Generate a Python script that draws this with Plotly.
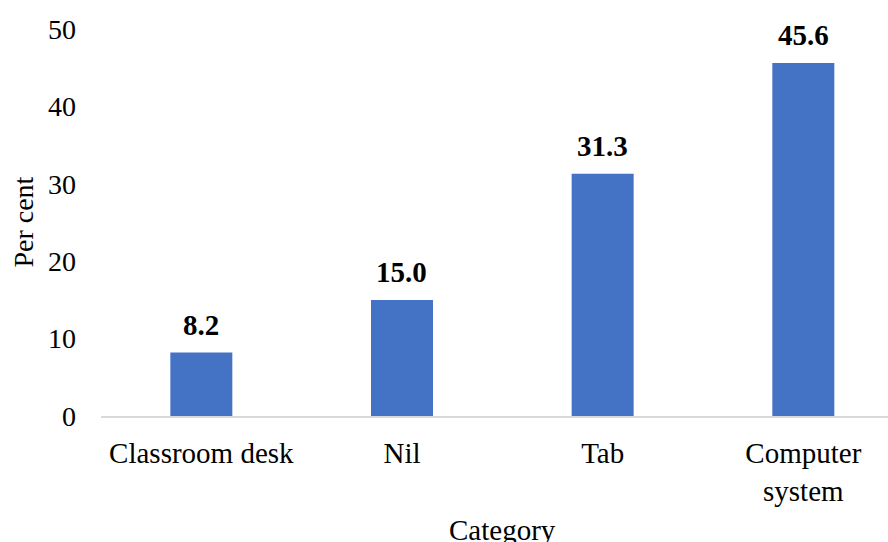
import plotly.graph_objects as go

# Share of respondents by category (percent)
categories = ["Classroom desk", "Nil", "Tab", "Computer<br>system"]
values = [8.2, 15.0, 31.3, 45.6]
y_ticks = [0, 10, 20, 30, 40, 50]

bar_color = "#4472C4"
font_family = "Liberation Serif"

fig = go.Figure(
    go.Bar(
        x=list(range(len(categories))),
        y=values,
        width=0.309,
        marker=dict(color=bar_color, line=dict(width=0)),
        hoverinfo="x+y",
    )
)

# Bold value labels above each bar
for i, v in enumerate(values):
    fig.add_annotation(
        x=i, y=v, text=f"<b>{v:.1f}</b>", showarrow=False,
        xanchor="center", yanchor="bottom", yshift=10,
        font=dict(family=font_family, size=29, color="#000000"),
    )

# Axis titles
fig.add_annotation(
    x=-0.099, y=0.5, xref="paper", yref="paper", text="Per cent",
    textangle=-90, showarrow=False, xanchor="center", yanchor="middle",
    font=dict(family=font_family, size=28, color="#000000"),
)
fig.add_annotation(
    x=1.5, y=-0.295, xref="x", yref="paper", text="Category",
    showarrow=False, xanchor="center", yanchor="middle",
    font=dict(family=font_family, size=29, color="#000000"),
)

fig.update_layout(
    width=888, height=542,
    margin=dict(l=101, r=0, t=29, b=126),
    paper_bgcolor="white", plot_bgcolor="white",
    showlegend=False,
    font=dict(family=font_family, color="#000000"),
)

fig.update_xaxes(
    range=[-0.5, 3.422],
    tickmode="array",
    tickvals=list(range(len(categories))),
    ticktext=categories,
    tickfont=dict(family=font_family, size=29, color="#000000"),
    showline=True, linecolor="#D9D9D9", linewidth=2,
    showgrid=False, zeroline=False, ticks="",
    ticklabelstandoff=10,
)
fig.update_yaxes(
    range=[0, 50],
    tickmode="array",
    tickvals=y_ticks,
    tickfont=dict(family=font_family, size=28, color="#000000"),
    showline=False, showgrid=False, zeroline=False, ticks="",
    ticklabelstandoff=24,
)

fig.write_html("out.html")
